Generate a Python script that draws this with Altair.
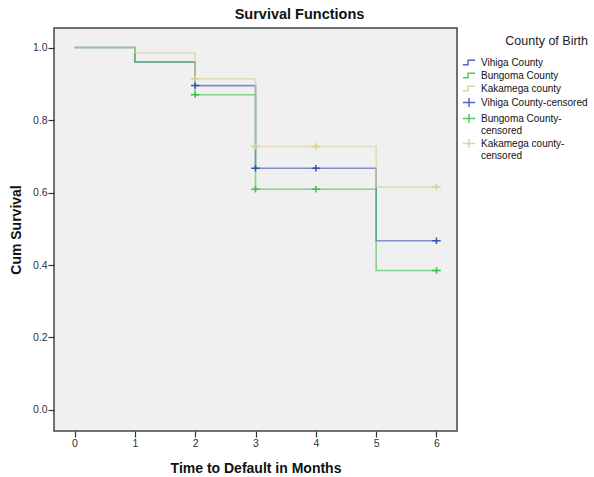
import altair as alt
import pandas as pd

# Kaplan-Meier step data
times = [0, 1, 2, 3, 5, 6]
vihiga = [1.0, 0.96, 0.895, 0.667, 0.467, 0.467]
bungoma = [1.0, 0.96, 0.870, 0.609, 0.385, 0.385]
kakamega = [1.0, 0.985, 0.914, 0.727, 0.615, 0.615]

# censored marks
cens_times = [2, 3, 4, 6]
vihiga_c = [0.895, 0.667, 0.667, 0.467]
bungoma_c = [0.870, 0.609, 0.609, 0.385]
kakamega_c = [0.914, 0.727, 0.727, 0.615]

series = ["Vihiga County", "Bungoma County", "Kakamega county"]
cens_names = ["Vihiga County-censored", "Bungoma County-censored", "Kakamega county-censored"]
colors = ["#3a4fb5", "#38c04a", "#d8ce92"]
x_ticks = [0, 1, 2, 3, 4, 5, 6]
y_ticks = [0, 0.2, 0.4, 0.6, 0.8, 1.0]

rows = []
for name, vals, order in zip(series, [vihiga, bungoma, kakamega], [0, 1, 2]):
    for t, v in zip(times, vals):
        rows.append({"t": t, "s": v, "county": name, "o": order})
lines_df = pd.DataFrame(rows)

crows = []
for name, vals in zip(cens_names, [vihiga_c, bungoma_c, kakamega_c]):
    for t, v in zip(cens_times, vals):
        crows.append({"t": t, "s": v, "county": name})
cens_df = pd.DataFrame(crows)

domain = series + cens_names
color_scale = alt.Scale(domain=domain, range=colors + colors)

step_path = "M-1,0.35H-0.15V-0.35H1"
cross_path = "M-1,0H1M0,-0.75V0.75"
shape_scale = alt.Scale(domain=domain, range=[step_path] * 3 + [cross_path] * 3)

xs = alt.Scale(domain=[-0.34, 6.34], nice=False, zero=False)
ys = alt.Scale(domain=[-0.058, 1.054], nice=False, zero=False)

legend = alt.Legend(
    title="County of Birth",
    orient="none",
    legendX=408,
    legendY=7,
    titleAnchor="end",
    titleFontSize=12.5,
    titleFontWeight="normal",
    titleColor="#222",
    titleFont="Liberation Sans",
    titlePadding=8,
    labelFont="Liberation Sans",
    labelFontSize=10,
    labelColor="#111",
    labelOffset=5,
    labelLimit=200,
    symbolSize=150,
    symbolStrokeWidth=1.5,
    symbolOpacity=0.85,
    rowPadding=0,
    labelExpr="datum.label == 'Bungoma County-censored' ? ['Bungoma County-', 'censored'] : datum.label == 'Kakamega county-censored' ? ['Kakamega county-', 'censored'] : datum.label",
)

x_axis = alt.Axis(values=x_ticks, format="d", title="Time to Default in Months")
y_axis = alt.Axis(values=y_ticks, format=".1f", title="Cum Survival")

lines = alt.Chart(lines_df).mark_line(interpolate="step-after", strokeWidth=1.6, opacity=0.6).encode(
    x=alt.X("t:Q", scale=xs, axis=x_axis),
    y=alt.Y("s:Q", scale=ys, axis=y_axis),
    color=alt.Color("county:N", scale=color_scale, legend=legend),
    order=alt.Order("o:Q"),
)

points = alt.Chart(cens_df).mark_point(
    size=72, strokeWidth=1.5, opacity=1, filled=False
).encode(
    x=alt.X("t:Q", scale=xs, axis=x_axis),
    y=alt.Y("s:Q", scale=ys, axis=y_axis),
    color=alt.Color("county:N", scale=color_scale, legend=legend),
    shape=alt.Shape("county:N", scale=shape_scale, legend=legend),
)

chart = alt.layer(lines, points).properties(
    width=403,
    height=403,
    padding={"left": 54, "top": 28, "right": 137, "bottom": 46},
    autosize=alt.AutoSizeParams(type="none"),
    background="white",
    title=alt.TitleParams(
        "Survival Functions",
        fontSize=14.5,
        fontWeight="bold",
        font="Liberation Sans",
        color="#111",
        dx=44,
        offset=6,
    ),
).configure_view(
    fill="#f0f0f0", stroke="#444", strokeWidth=1.5
).configure_axis(
    domain=False,
    grid=False,
    tickSize=6,
    tickColor="#333",
    tickWidth=1.2,
    labelFont="Liberation Sans",
    labelFontSize=10.5,
    labelColor="#333",
    labelPadding=1,
    titleFont="Liberation Sans",
    titleFontSize=14,
    titleFontWeight="bold",
    titleColor="#111",
).configure_axisX(titlePadding=13).configure_axisY(titlePadding=9)

chart.save("out.html", embed_options={"renderer": "svg", "actions": False})
